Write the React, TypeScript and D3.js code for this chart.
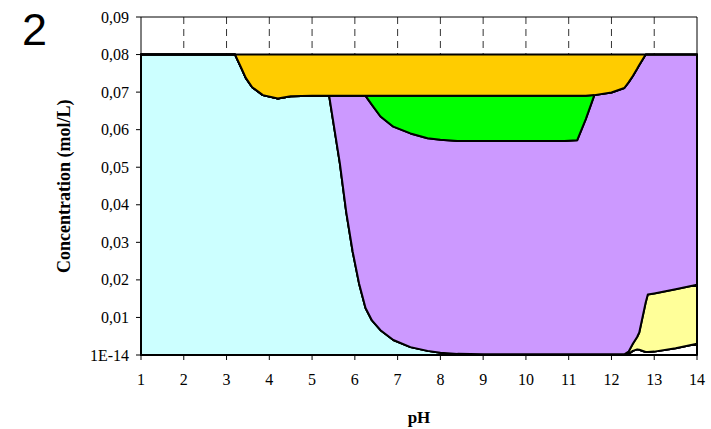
import React from "react";
import * as d3 from "d3";

// pH grid
const pH = [1, 2, 3, 3.2, 3.35, 3.45, 3.6, 3.85, 4.2, 4.5, 5, 5.4, 5.65, 5.8, 5.95, 6.1, 6.25, 6.4, 6.6, 6.9, 7.3, 7.7, 8, 8.4, 9, 10, 10.9, 11.2, 11.4, 11.6, 12, 12.3, 12.4, 12.5, 12.6, 12.65, 12.8, 12.85, 13, 13.5, 14];

// stacked series, bottom to top (mol/L)
const whiteS = [0, 0, 0, 0, 0, 0, 0, 0, 0, 0, 0, 0, 0, 0, 0, 0, 0, 0, 0, 0, 0, 0, 0, 0, 0, 0, 0, 0, 0, 0, 0, 0, 0.0003, 0.0011, 0.0015, 0.0014, 0.0008, 0.0008, 0.0009, 0.0018, 0.003];
const cyanS = [0.08, 0.08, 0.08, 0.08, 0.0763, 0.0738, 0.0713, 0.0692, 0.0683, 0.0689, 0.069, 0.069, 0.051, 0.038, 0.0275, 0.019, 0.0125, 0.0092, 0.0066, 0.004, 0.0021, 0.0011, 0.0006, 0.0003, 0.0002, 0.0002, 0.0002, 0.0002, 0.0002, 0.0002, 0.0002, 0.0002, 0, 0, 0, 0, 0, 0, 0, 0, 0];
const yellowS = [0, 0, 0, 0, 0, 0, 0, 0, 0, 0, 0, 0, 0, 0, 0, 0, 0, 0, 0, 0, 0, 0, 0, 0, 0, 0, 0, 0, 0, 0, 0, 0, 0.0006, 0.0019, 0.0033, 0.0046, 0.0132, 0.0153, 0.0155, 0.0157, 0.0157];
const purpleS = [0, 0, 0, 0, 0, 0, 0, 0, 0, 0, 0, 0, 0.018, 0.031, 0.0415, 0.05, 0.0565, 0.0574, 0.0569, 0.0568, 0.0569, 0.0566, 0.0567, 0.0567, 0.0568, 0.0568, 0.0568, 0.057, 0.0626, 0.069, 0.0697, 0.0709, 0.0717, 0.0713, 0.0714, 0.0712, 0.066, 0.0639, 0.0636, 0.0625, 0.0613];
const greenS = [0, 0, 0, 0, 0, 0, 0, 0, 0, 0, 0, 0, 0, 0, 0, 0, 0, 0.0024, 0.0055, 0.0082, 0.01, 0.0113, 0.0117, 0.012, 0.012, 0.012, 0.012, 0.0118, 0.0062, 0, 0, 0, 0, 0, 0, 0, 0, 0, 0, 0, 0];
const orangeS = [0, 0, 0, 0, 0.0037, 0.0062, 0.0087, 0.0108, 0.0117, 0.0111, 0.011, 0.011, 0.011, 0.011, 0.011, 0.011, 0.011, 0.011, 0.011, 0.011, 0.011, 0.011, 0.011, 0.011, 0.011, 0.011, 0.011, 0.011, 0.011, 0.0108, 0.0101, 0.0089, 0.0074, 0.0057, 0.0038, 0.0028, 0, 0, 0, 0, 0];

const seriesKeys = ["white", "cyan", "yellow", "purple", "green", "orange"];
const seriesColors = ["#FFFFFF", "#CCFFFF", "#FFFF99", "#CC99FF", "#00FF00", "#FFCC00"];

const xTicks = [1, 2, 3, 4, 5, 6, 7, 8, 9, 10, 11, 12, 13, 14];
const yTicks = [0, 0.01, 0.02, 0.03, 0.04, 0.05, 0.06, 0.07, 0.08, 0.09];
const yTickLabels = ["1E-14", "0,01", "0,02", "0,03", "0,04", "0,05", "0,06", "0,07", "0,08", "0,09"];

const W = 711;
const H = 429;
const left = 141, right = 697, top = 17, bottom = 355;

export default function App() {
  const x = d3.scaleLinear().domain([1, 14]).range([left, right]);
  const y = d3.scaleLinear().domain([0, 0.09]).range([bottom, top]);

  const rows = pH.map((p, i) => ({
    pH: p,
    white: whiteS[i],
    cyan: cyanS[i],
    yellow: yellowS[i],
    purple: purpleS[i],
    green: greenS[i],
    orange: orangeS[i],
  }));
  const stacked = d3.stack<any>().keys(seriesKeys)(rows);

  const area = d3
    .area<any>()
    .x((d) => x(d.data.pH))
    .y0((d) => y(d[0]))
    .y1((d) => y(d[1]));

  const serif = "'Liberation Serif', 'Times New Roman', serif";

  return (
    <svg
      width={W}
      height={H}
      style={{ position: "absolute", left: 0, top: 0, background: "#fff" }}
    >
      <defs>
        <clipPath id="ytitle-clip">
          <rect x={0} y={97} width={135} height={300} />
        </clipPath>
      </defs>

      <text x={22} y={45} fontFamily="'Liberation Sans', Arial, sans-serif" fontSize={45}>
        2
      </text>

      {/* dashed vertical gridlines */}
      {xTicks.slice(1, -1).map((t) => (
        <line
          key={"g" + t}
          x1={x(t)}
          x2={x(t)}
          y1={top}
          y2={bottom}
          stroke="#333"
          strokeWidth={1}
          strokeDasharray="7,5"
        />
      ))}

      {stacked.map((s, i) => (
        <path
          key={s.key}
          d={area(s) || ""}
          fill={seriesColors[i]}
          stroke="#000"
          strokeWidth={2}
          strokeLinejoin="round"
        />
      ))}

      {/* plot frame */}
      <line x1={left} x2={right} y1={top} y2={top} stroke="#000" strokeWidth={1} />
      <line x1={right} x2={right} y1={top} y2={bottom} stroke="#000" strokeWidth={1} />
      <line x1={left} x2={left} y1={top} y2={bottom} stroke="#000" strokeWidth={1} />
      <line x1={left} x2={right} y1={bottom} y2={bottom} stroke="#000" strokeWidth={1.5} />

      {yTicks.map((t, i) => (
        <g key={"y" + t}>
          <line x1={left - 5} x2={left} y1={y(t)} y2={y(t)} stroke="#000" />
          <text
            x={left - 12}
            y={y(t)}
            dy="0.35em"
            textAnchor="end"
            fontFamily={serif}
            fontSize={16}
          >
            {yTickLabels[i]}
          </text>
        </g>
      ))}

      {xTicks.map((t) => (
        <g key={"x" + t}>
          <line x1={x(t)} x2={x(t)} y1={bottom} y2={bottom + 5} stroke="#000" />
          <text
            x={x(t)}
            y={bottom + 30}
            textAnchor="middle"
            fontFamily={serif}
            fontSize={16}
          >
            {t}
          </text>
        </g>
      ))}

      <text
        x={(left + right) / 2}
        y={423}
        textAnchor="middle"
        fontFamily={serif}
        fontSize={17}
        fontWeight="bold"
      >
        pH
      </text>

      <g clipPath="url(#ytitle-clip)">
        <text
          transform="translate(70,273) rotate(-90)"
          fontFamily={serif}
          fontSize={18}
          fontWeight="bold"
        >
          Concentration (mol/L)
        </text>
      </g>
    </svg>
  );
}
